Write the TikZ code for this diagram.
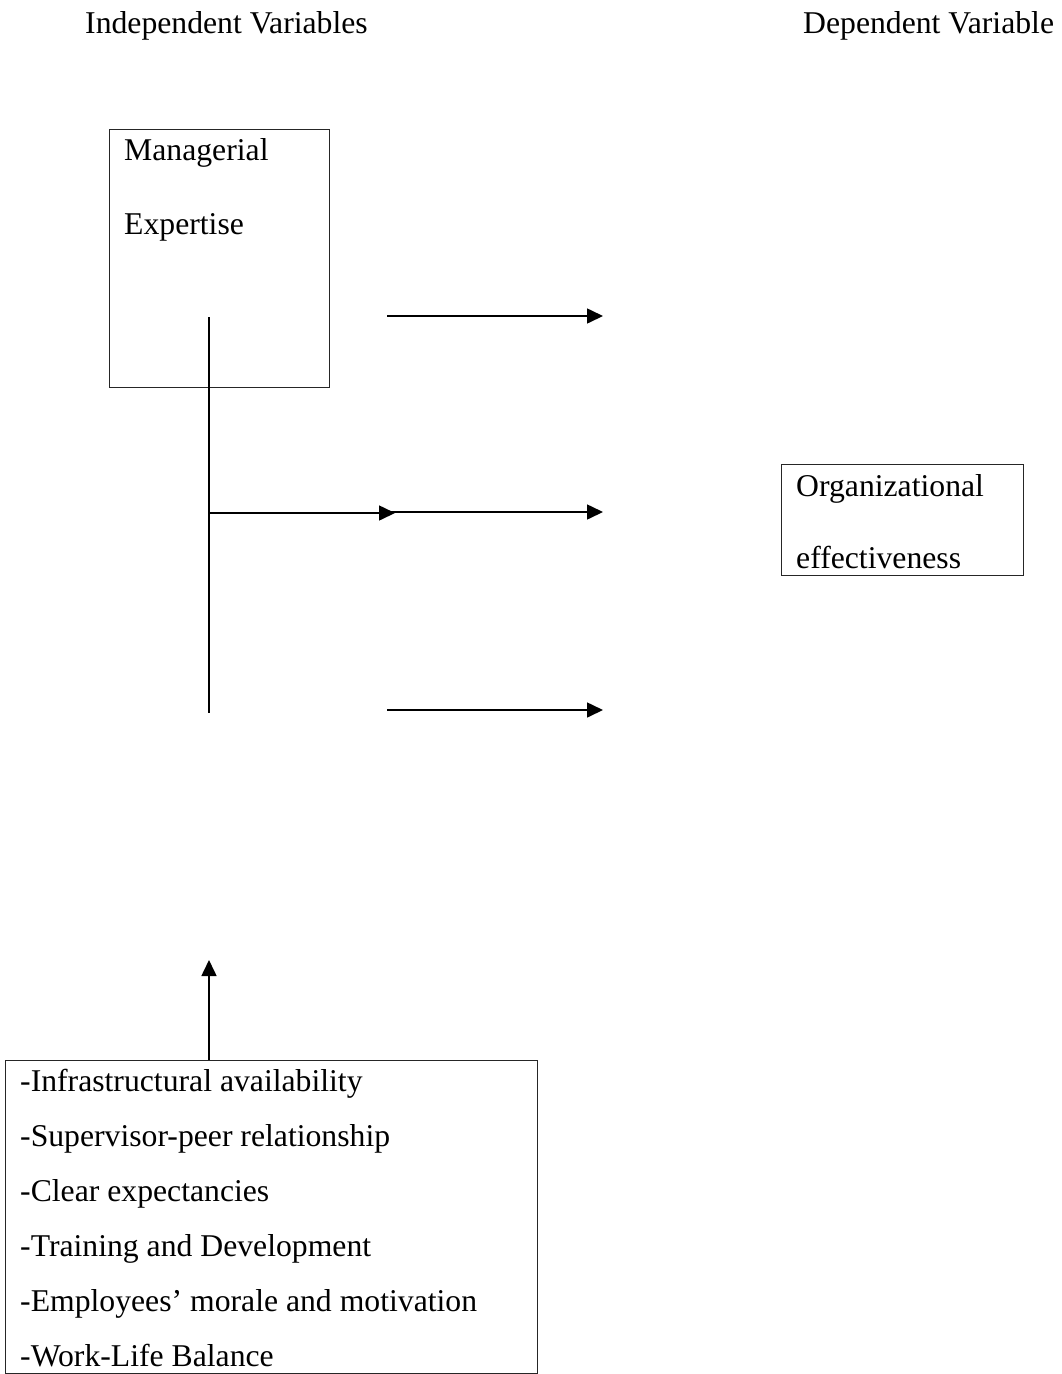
\documentclass[tikz,border=0pt]{standalone}
\usepackage{fontspec}
\setmainfont{Liberation Serif}
\usetikzlibrary{arrows.meta}
\begin{document}
\begin{tikzpicture}[x=1pt,y=-1pt,
  txt/.style={anchor=base west,inner sep=0pt,font=\fontsize{31.7}{40}\selectfont},
  box/.style={draw=black!85,line width=1.3pt,anchor=north west,inner sep=0pt},
  conn/.style={line width=1.6pt,black},
  arr/.style={conn,-{Triangle[length=16pt,width=15pt]}}]
\useasboundingbox (0,0) rectangle (1062,1374);
% titles
\node[txt] (tind) at (85,33) {Independent Variables};
\node[txt] (tdep) at (803,33) {Dependent Variable};
% managerial box
\node[box,minimum width=220pt,minimum height=258pt] (mgr) at (109,129) {};
\node[txt] (mgr1) at (124,160) {Managerial};
\node[txt] (mgr2) at (124,234) {Expertise};
% organizational box
\node[box,minimum width=242pt,minimum height=111pt] (org) at (781,464) {};
\node[txt] (org1) at (796,496) {Organizational};
\node[txt] (org2) at (796,568) {effectiveness};
% bottom box
\node[box,minimum width=532pt,minimum height=313pt] (bot) at (5,1060) {};
\node[txt] (b1) at (20,1091) {-Infrastructural availability};
\node[txt] (b2) at (20,1146) {-Supervisor-peer relationship};
\node[txt] (b3) at (20,1201) {-Clear expectancies};
\node[txt] (b4) at (20,1256) {-Training and Development};
\node[txt] (b5) at (20,1311) {-Employees’ morale and motivation};
\node[txt] (b6) at (20,1366) {-Work-Life Balance};
% coordinates
\coordinate (vtop) at (209,317);
\coordinate (vbot) at (209,713);
\coordinate (vmid) at (209,513);
\coordinate (m1) at (395,513);
\coordinate (a1s) at (387,316);
\coordinate (a1e) at (603,316);
\coordinate (a2s) at (387,512);
\coordinate (a2e) at (603,512);
\coordinate (a3s) at (387,710);
\coordinate (a3e) at (603,710);
\coordinate (uptip) at (209,960);
% connectors
\draw[conn] (vtop) -- (vbot);
\draw[arr] (vmid) -- (m1);
\draw[arr] (a1s) -- (a1e);
\draw[arr] (a2s) -- (a2e);
\draw[arr] (a3s) -- (a3e);
\draw[arr] (bot.north -| uptip) -- (uptip);
\end{tikzpicture}
\end{document}
